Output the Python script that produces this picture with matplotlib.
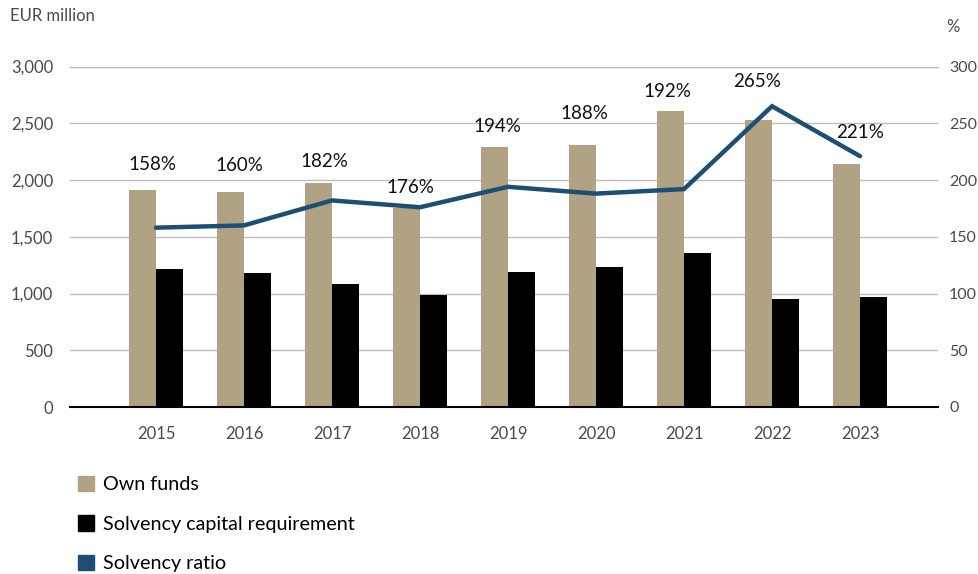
import matplotlib.pyplot as plt
import numpy as np
from matplotlib.patches import Patch

plt.rcParams['font.family'] = ['Lato', 'DejaVu Sans']

years = ['2015', '2016', '2017', '2018', '2019', '2020', '2021', '2022', '2023']
own_funds = [1912, 1895, 1974, 1756, 2292, 2310, 2610, 2532, 2143]
scr = [1216, 1180, 1083, 985, 1190, 1235, 1357, 953, 970]
solvency_ratio = [158, 160, 182, 176, 194, 188, 192, 265, 221]

# label offsets in pixels (dx, dy) relative to each line point
label_offsets = [(-4, 63), (-5, 60), (-8, 39), (-10, 20), (-11, 60),
                 (-12, 80), (-17, 98), (-15, 25), (0, 24)]

tan = '#b1a283'
navy = '#1d4e73'
grey_text = '#4a4a4a'

fig = plt.figure(figsize=(9.79, 5.74), dpi=100)
ax = fig.add_axes([70 / 979, 1 - 407 / 574, 868 / 979, 340.5 / 574])

x = np.arange(len(years))
w = 0.307
ax.bar(x - w / 2, own_funds, width=w, color=tan, zorder=2)
ax.bar(x + w / 2, scr, width=w, color='black', zorder=2)

ax.set_xlim(-0.977, 8.886)
ax.set_ylim(0, 3000)
ax.set_yticks(np.arange(0, 3001, 500))
ax.set_yticklabels([f'{v:,}' for v in range(0, 3001, 500)])
ax.set_xticks(x)
ax.set_xticklabels(years)
ax.grid(axis='y', color='#bdbdbd', linewidth=1, zorder=0)
ax.set_axisbelow(True)
for s in ['top', 'right', 'left']:
    ax.spines[s].set_visible(False)
ax.spines['bottom'].set_color('black')
ax.spines['bottom'].set_linewidth(1.5)
ax.spines['bottom'].set_zorder(5)
ax.tick_params(axis='both', length=0, labelsize=12, labelcolor=grey_text)
ax.tick_params(axis='y', pad=12)
ax.tick_params(axis='x', pad=14)
ax.axhline(3000, color='#bdbdbd', linewidth=1, clip_on=False, zorder=0)

ax2 = ax.twinx()
ax2.set_ylim(0, 300)
ax2.set_yticks(np.arange(0, 301, 50))
ax2.tick_params(axis='y', length=0, labelsize=11.5, labelcolor=grey_text, pad=8)
for s in ax2.spines.values():
    s.set_visible(False)
ax2.plot(x, solvency_ratio, color=navy, linewidth=3.2, solid_joinstyle='miter',
         solid_capstyle='round', zorder=4)

for xi, r, (dx, dy) in zip(x, solvency_ratio, label_offsets):
    ax2.annotate(f'{r}%', xy=(xi, r), xytext=(dx * 0.72, dy * 0.72),
                 textcoords='offset points', ha='center', va='center',
                 fontsize=13.5, color='#111111')

fig.text(10 / 979, 1 - 16 / 574, 'EUR million', fontsize=12, color=grey_text,
         ha='left', va='center')
fig.text(953 / 979, 1 - 27 / 574, '%', fontsize=12, color=grey_text,
         ha='center', va='center')

handles = [Patch(color=tan), Patch(color='black'), Patch(color=navy)]
labels = ['Own funds', 'Solvency capital requirement', 'Solvency ratio']
fig.legend(handles, labels, loc='upper left', bbox_to_anchor=(78 / 979, 1 - 476 / 574),
           frameon=False, borderpad=0, borderaxespad=0,
           handlelength=0.8, handleheight=0.8, handletextpad=0.45,
           labelspacing=1.12, fontsize=14.2)

fig.savefig('out.png', dpi=100)
